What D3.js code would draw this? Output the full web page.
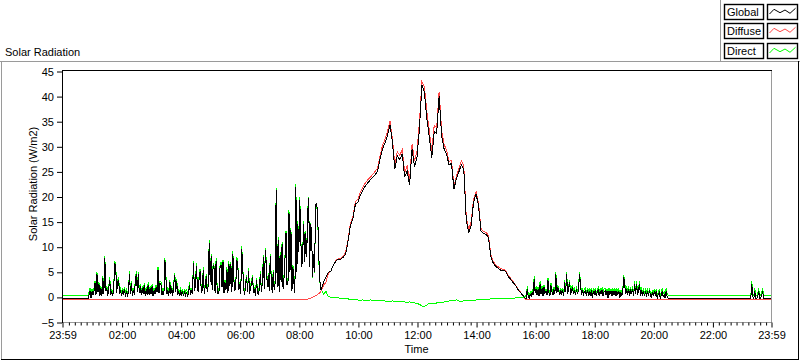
<!DOCTYPE html>
<html>
<head>
<meta charset="utf-8">
<script src="https://cdn.jsdelivr.net/npm/d3@7"></script>
<style>
  body { margin: 0; background: #fff; }
  text { font-family: "Liberation Sans", Arial, sans-serif; font-size: 11px; fill: #000; }
</style>
</head>
<body>
<svg id="chart" width="800" height="361"></svg>
<script>
// sampling of the logger blocks (minutes after 00:00)
const earlyStart = 0, earlyStep = 2;      // night / morning, 2 min
const dayStart = 525, dayStep = 5;        // daylight, 5 min
const lateStart = 942, lateStep = 2;      // evening / night, 2 min
const diffuseNightStep = 10;              // diffuse is flat at night
const diffuseLateStart = 948;

// ---- Global (W/m2) ----
const globalEarly = [
  -0.2,-0.2,-0.2,-0.2,-0.2,-0.2,-0.2,-0.2,-0.2,-0.2,
  -0.2,-0.2,-0.2,-0.2,-0.2,-0.2,-0.2,-0.2,-0.2,-0.2,
  -0.2,-0.2,-0.2,-0.2,-0.2,-0.2,-0.2,
  0.6,1.3,-0.2,1.2,0.4,1.3,2.8,0.5,4.6,1.0,
  2.6,0.3,1.8,0.2,3.8,0.6,7.8,1.2,1.8,0.3,
  1.8,3.5,0.4,1.2,0.2,1.6,6.6,6.4,0.8,3.0,
  3.5,0.6,1.5,0.2,1.4,0.8,1.6,0.1,1.3,0.4,
  1.0,4.7,0.6,2.8,0.3,1.4,0.5,3.2,4.7,1.0,
  4.6,0.8,2.2,0.4,1.8,0.6,2.4,0.2,1.6,0.5,
  2.5,0.4,1.8,0.6,2.2,0.2,1.4,0.6,2.0,1.0,
  5.5,0.8,2.8,2.6,0.4,1.2,0.6,7.4,4.0,0.6,
  1.5,0.3,3.0,0.6,1.8,0.2,2.6,4.4,1.0,3.2,
  0.4,1.2,0.2,1.2,0.6,1.0,0.2,1.2,0.4,1.1,
  0.2,1.0,2.5,0.4,1.4,0.6,6.8,1.2,2.4,6.3,
  2.0,1.0,5.0,5.1,0.8,1.6,5.5,0.6,2.4,4.2,
  1.0,2.4,10.9,3.0,8.2,1.4,6.4,5.7,0.8,7.3,
  2.0,0.6,1.4,6.0,6.5,2.0,7.0,0.8,3.0,1.4,
  5.5,0.8,6.7,2.2,6.6,1.0,8.7,3.4,1.2,2.6,
  7.5,6.7,1.4,2.6,0.6,9.7,6.0,1.8,0.4,2.7,
  4.0,1.0,5.3,0.6,2.0,2.7,4.0,0.8,1.6,0.2,
  3.4,1.2,0.4,2.0,4.7,1.0,3.0,8.0,1.6,9.4,
  6.5,2.0,4.4,1.2,8.2,3.6,0.8,5.0,1.4,3.0,
  21.3,2.0,11.5,1.0,8.5,3.0,10.6,1.6,4.0,8.0,
  12.8,2.4,3.0,16.9,5.0,13.4,1.2,6.0,3.0,0.8,
  22.0,5.0,14.7,9.0,19.4,11.4,6.0,9.0,14.7,7.0,
  12.8,8.0,16.9,19.7,6.0,14.7,12.8,4.0,8.7,5.0,
  18.4,18.7,17.4,10.6,4.0
];
const globalDay = [
  1.5,3.0,4.0,
  5.0,5.2,6.4,7.2,7.6,7.6,8.0,8.6,11.2,14.4,15.8,18.6,
  19.0,20.4,21.4,22.2,22.8,23.4,23.9,24.4,25.2,27.6,29.6,30.8,
  32.2,34.4,31.0,25.6,28.2,27.4,28.6,24.0,25.2,22.4,29.6,26.0,
  28.0,33.6,42.4,40.8,35.6,32.0,27.8,33.0,32.7,40.2,32.2,29.6,
  28.6,26.4,26.7,21.6,23.6,25.0,26.4,25.6,15.6,12.8,14.4,19.0,
  20.6,18.2,13.2,12.7,12.6,12.0,8.2,6.8,6.2,5.8,5.4,5.4,
  5.2,4.2,3.6,3.0,2.4,1.6,1.0,0.4,-0.2
];
const globalLate = [
  -0.2,1.7,0.2,-0.2,0.6,0.2,1.0,0.4,3.7,0.8,
  1.7,0.4,1.6,0.2,2.7,0.6,1.8,0.3,2.0,0.8,
  1.2,0.4,3.4,1.0,0.3,2.4,1.2,0.4,1.6,0.6,
  4.6,0.8,2.0,1.2,0.4,1.4,0.6,1.4,0.2,3.0,
  1.0,4.6,0.6,1.8,3.0,0.4,1.4,2.0,0.6,1.2,
  0.4,1.7,0.6,1.4,4.6,2.7,0.4,1.4,0.6,1.2,
  1.4,0.2,1.4,0.6,1.3,0.2,1.4,-0.2,1.3,0.4,
  1.4,0.2,1.0,1.5,0.2,1.3,0.6,1.5,0.2,1.2,
  1.3,0.4,1.2,-0.2,1.3,0.6,1.2,0.2,1.3,0.4,
  1.3,0.2,1.2,0.6,1.3,-0.2,1.0,0.4,1.2,4.0,
  2.4,0.6,1.7,0.4,1.7,0.2,1.6,0.6,1.7,0.3,
  2.7,0.6,2.7,0.4,1.4,2.7,0.2,1.2,0.6,1.3,
  0.2,1.0,0.4,1.3,0.2,1.2,0.6,-0.2,1.0,0.2,
  1.2,0.4,1.2,-0.2,0.6,1.0,-0.2,0.4,1.3,0.2,
  0.6,-0.2,1.3,0.2,-0.2,-0.2,-0.2,-0.2,-0.2,-0.2,
  -0.2,-0.2,-0.2,-0.2,-0.2,-0.2,-0.2,-0.2,-0.2,-0.2,
  -0.2,-0.2,-0.2,-0.2,-0.2,-0.2,-0.2,-0.2,-0.2,-0.2,
  -0.2,-0.2,-0.2,-0.2,-0.2,-0.2,-0.2,-0.2,-0.2,-0.2,
  -0.2,-0.2,-0.2,-0.2,-0.2,-0.2,-0.2,-0.2,-0.2,-0.2,
  -0.2,-0.2,-0.2,-0.2,-0.2,-0.2,-0.2,-0.2,-0.2,-0.2,
  -0.2,-0.2,-0.2,-0.2,-0.2,-0.2,-0.2,-0.2,-0.2,-0.2,
  -0.2,-0.2,-0.2,-0.2,-0.2,-0.2,-0.2,-0.2,-0.2,-0.2,
  -0.2,-0.2,-0.2,-0.2,-0.2,-0.2,-0.2,-0.2,-0.2,
  2.7,0.2,-0.2,1.3,-0.2,-0.2,0.2,1.3,-0.2,-0.2,
  0.4,1.3,-0.2,-0.2,-0.2,-0.2,-0.2,-0.2,-0.2,-0.2
];

// ---- Diffuse (W/m2) ----
const diffuseEarly = [
  -0.4,-0.4,-0.4,-0.4,-0.4,-0.4,-0.4,-0.4,-0.4,-0.4,
  -0.4,-0.4,-0.4,-0.4,-0.4,-0.4,-0.4,-0.4,-0.4,-0.4,
  -0.4,-0.4,-0.4,-0.4,-0.4,-0.4,-0.4,-0.4,-0.4,-0.4,
  -0.4,-0.4,-0.4,-0.4,-0.4,-0.4,-0.4,-0.4,-0.4,-0.4,
  -0.4,-0.4,-0.4,-0.4,-0.4,-0.4,-0.4,-0.4,-0.4,-0.4,
  -0.3,0.1,0.7
];
const diffuseDay = [
  1.2,2.4,3.0,
  4.8,5.2,6.4,7.3,7.7,7.8,8.2,8.9,11.5,14.8,16.2,19.1,
  19.5,21.0,21.9,22.8,23.4,23.9,24.5,25.1,25.8,28.2,30.3,31.5,
  33.0,35.2,31.7,26.4,29.0,28.3,29.4,24.9,26.2,23.3,30.6,27.1,
  29.2,35.0,43.0,42.0,37.0,33.2,29.0,34.3,33.8,41.0,33.2,30.5,
  29.4,27.1,27.3,22.2,24.1,25.7,27.2,26.3,16.2,13.4,15.1,19.6,
  21.1,18.7,13.7,13.1,13.0,12.4,8.5,7.1,6.5,6.1,5.7,5.6,
  5.4,4.5,3.8,3.2,2.5,1.7,1.1,0.4,-0.4
];
const diffuseLate = [
  -0.4,-0.4,-0.4,-0.4,-0.4,-0.4,-0.4,-0.4,-0.4,-0.4,
  -0.4,-0.4,-0.4,-0.4,-0.4,-0.4,-0.4,-0.4,-0.4,-0.4,
  -0.4,-0.4,-0.4,-0.4,-0.4,-0.4,-0.4,-0.4,-0.4,-0.4,
  -0.4,-0.4,-0.4,-0.4,-0.4,-0.4,-0.4,-0.4,-0.4,-0.4,
  -0.4,-0.4,-0.4,-0.4,-0.4,-0.4,-0.4,-0.4,-0.4,-0.4
];

// ---- Direct (W/m2) ----
const directEarly = [
  0.4,0.4,0.4,0.4,0.4,0.4,0.4,0.4,0.4,0.4,
  0.4,0.4,0.4,0.4,0.4,0.4,0.4,0.4,0.4,0.4,
  0.4,0.4,0.4,0.4,0.4,0.4,0.4,
  1.1,1.8,0.4,1.7,0.9,1.8,3.3,1.0,5.1,1.5,
  3.1,0.8,2.3,0.7,4.3,1.1,8.3,1.7,2.3,0.8,
  2.3,4.0,0.9,1.7,0.7,2.1,7.1,6.9,1.3,3.5,
  4.0,1.1,2.0,0.7,1.9,1.3,2.1,0.6,1.8,0.9,
  1.5,5.2,1.1,3.3,0.8,1.9,1.0,3.7,5.2,1.5,
  5.1,1.3,2.7,0.9,2.3,1.1,2.9,0.7,2.1,1.0,
  3.0,0.9,2.3,1.1,2.7,0.7,1.9,1.1,2.5,1.5,
  6.0,1.3,3.3,3.1,0.9,1.7,1.1,7.9,4.5,1.1,
  2.0,0.8,3.5,1.1,2.3,0.7,3.1,4.9,1.5,3.7,
  0.9,1.7,0.7,1.7,1.1,1.5,0.7,1.7,0.9,1.6,
  0.7,1.5,3.0,0.9,1.9,1.1,7.3,1.7,2.9,6.8,
  2.5,1.5,5.5,5.6,1.3,2.1,6.0,1.1,2.9,4.7,
  1.5,2.9,11.4,3.5,8.7,1.9,6.9,6.2,1.3,7.8,
  2.5,1.1,1.9,6.5,7.0,2.5,7.5,1.3,3.5,1.9,
  6.0,1.3,7.2,2.7,7.1,1.5,9.2,3.9,1.7,3.1,
  8.0,7.2,1.9,3.1,1.1,10.2,6.5,2.3,0.9,3.2,
  4.5,1.5,5.8,1.1,2.5,3.2,4.5,1.3,2.1,0.7,
  3.9,1.7,0.9,2.5,5.2,1.5,3.5,8.5,2.1,9.9,
  7.0,2.5,4.9,1.7,8.7,4.1,1.3,5.5,1.9,3.5,
  21.8,2.5,12.0,1.5,9.0,3.5,11.1,2.1,4.5,8.5,
  13.3,2.9,3.5,17.4,5.5,13.9,1.7,6.5,3.5,1.3,
  22.5,5.5,15.2,9.5,19.9,11.9,6.5,9.5,15.2,7.5,
  13.3,8.5,17.4,20.0,6.2,14.8,12.8,3.9,8.6,4.8,
  18.1,18.2,16.8,9.9,3.3
];
const directDay = [
  1.8,0.6,1.2,
  0.2,0.0,0.0,-0.1,-0.1,-0.2,-0.2,-0.3,-0.3,-0.4,-0.4,-0.5,
  -0.5,-0.6,-0.5,-0.6,-0.6,-0.5,-0.6,-0.7,-0.6,-0.6,-0.7,-0.7,
  -0.8,-0.8,-0.7,-0.8,-0.8,-0.9,-0.8,-0.9,-1.0,-0.9,-1.0,-1.1,
  -1.2,-1.4,-1.7,-1.8,-1.5,-1.2,-1.2,-1.3,-1.1,-1.1,-1.0,-0.9,
  -0.8,-0.7,-0.6,-0.6,-0.5,-0.7,-0.8,-0.7,-0.6,-0.6,-0.7,-0.6,
  -0.5,-0.5,-0.5,-0.4,-0.4,-0.4,-0.3,-0.3,-0.3,-0.3,-0.3,-0.2,
  -0.2,-0.3,-0.2,-0.2,-0.1,-0.1,-0.1,0.0,0.2
];
const directLate = [
  0.4,2.2,0.7,0.4,1.1,0.7,1.5,0.9,4.2,1.3,
  2.2,0.9,2.1,0.7,3.2,1.1,2.3,0.8,2.5,1.3,
  1.7,0.9,3.9,1.5,0.8,2.9,1.7,0.9,2.1,1.1,
  5.1,1.3,2.5,1.7,0.9,1.9,1.1,1.9,0.7,3.5,
  1.5,5.1,1.1,2.3,3.5,0.9,1.9,2.5,1.1,1.7,
  0.9,2.2,1.1,1.9,5.1,3.2,0.9,1.9,1.1,1.7,
  1.9,0.7,1.9,1.1,1.8,0.7,1.9,0.4,1.8,0.9,
  1.9,0.7,1.5,2.0,0.7,1.8,1.1,2.0,0.7,1.7,
  1.8,0.9,1.7,0.4,1.8,1.1,1.7,0.7,1.8,0.9,
  1.8,0.7,1.7,1.1,1.8,0.4,1.5,0.9,1.7,4.5,
  2.9,1.1,2.2,0.9,2.2,0.7,2.1,1.1,2.2,0.8,
  3.2,1.1,3.2,0.9,1.9,3.2,0.7,1.7,1.1,1.8,
  0.7,1.5,0.9,1.8,0.7,1.7,1.1,0.4,1.5,0.7,
  1.7,0.9,1.7,0.4,1.1,1.5,0.4,0.9,1.8,0.7,
  1.1,0.4,1.8,0.7,0.4,0.4,0.4,0.4,0.4,0.4,
  0.4,0.4,0.4,0.4,0.4,0.4,0.4,0.4,0.4,0.4,
  0.4,0.4,0.4,0.4,0.4,0.4,0.4,0.4,0.4,0.4,
  0.4,0.4,0.4,0.4,0.4,0.4,0.4,0.4,0.4,0.4,
  0.4,0.4,0.4,0.4,0.4,0.4,0.4,0.4,0.4,0.4,
  0.4,0.4,0.4,0.4,0.4,0.4,0.4,0.4,0.4,0.4,
  0.4,0.4,0.4,0.4,0.4,0.4,0.4,0.4,0.4,0.4,
  0.4,0.4,0.4,0.4,0.4,0.4,0.4,0.4,0.4,0.4,
  0.4,0.4,0.4,0.4,0.4,0.4,0.4,0.4,0.4,
  3.2,0.7,0.4,1.8,0.4,0.4,0.7,1.8,0.4,0.4,
  0.9,1.8,0.4,0.4,0.4,0.4,0.4,0.4,0.4,0.4
];

const seriesNames = ["Global", "Diffuse", "Direct"];
const yTicks = [-5, 0, 5, 10, 15, 20, 25, 30, 35, 40, 45];
const xTickMinutes = [-1, 120, 240, 360, 480, 600, 720, 840, 960, 1080, 1200, 1320, 1439];
const xTickLabels = ["23:59", "02:00", "04:00", "06:00", "08:00", "10:00", "12:00",
                     "14:00", "16:00", "18:00", "20:00", "22:00", "23:59"];

const colors = {Global: "#000000", Diffuse: "#ff4848", Direct: "#00ff00"};
const grey = "#9a9a9a";

function toPoints(values, start, step) {
    return values.map((v, i) => ({t: start + i * step, v: v}));
}

const seriesData = {
    Global: [...toPoints(globalEarly, earlyStart, earlyStep),
             ...toPoints(globalDay, dayStart, dayStep),
             ...toPoints(globalLate, lateStart, lateStep)],
    Diffuse: [...toPoints(diffuseEarly, earlyStart, diffuseNightStep),
              ...toPoints(diffuseDay, dayStart, dayStep),
              ...toPoints(diffuseLate, diffuseLateStart, diffuseNightStep)],
    Direct: [...toPoints(directEarly, earlyStart, earlyStep),
             ...toPoints(directDay, dayStart, dayStep),
             ...toPoints(directLate, lateStart, lateStep)]
};

const svg = d3.select("#chart");
svg.append("rect").attr("width", 800).attr("height", 361).attr("fill", "#fff");

const plotL = 62, plotR = 771, plotT = 71, plotB = 322;

const x = d3.scaleLinear().domain([-1, 1439]).range([plotL, plotR]);
const y = d3.scaleLinear().domain([-5, 45]).range([plotB + 0.5, plotT + 0.5]);

// outer frame (sunken look)
svg.append("line").attr("x1", 0).attr("x2", 800).attr("y1", 61.5).attr("y2", 61.5).attr("stroke", grey);
svg.append("line").attr("x1", 1.5).attr("x2", 1.5).attr("y1", 61).attr("y2", 360).attr("stroke", grey);
svg.append("line").attr("x1", 798.5).attr("x2", 798.5).attr("y1", 61).attr("y2", 360).attr("stroke", "#000");
svg.append("line").attr("x1", 1).attr("x2", 799).attr("y1", 359.5).attr("y2", 359.5).attr("stroke", "#000");

svg.append("text").attr("x", 5).attr("y", 56).text("Solar Radiation");

// legend panel
svg.append("line").attr("x1", 720.5).attr("x2", 720.5).attr("y1", 0).attr("y2", 61).attr("stroke", grey);
const legend = svg.append("g");
seriesNames.forEach((name, k) => {
    const top = 4 + Math.round(k * 19.4);
    legend.append("rect")
        .attr("x", 724.5).attr("y", top + 0.5)
        .attr("width", 39).attr("height", 15)
        .attr("fill", "#fff").attr("stroke", "#000").attr("stroke-width", 1.4);
    legend.append("text").attr("x", 727).attr("y", top + 12).text(name);
    legend.append("rect")
        .attr("x", 767.5).attr("y", top + 0.5)
        .attr("width", 30).attr("height", 15)
        .attr("fill", "#fff").attr("stroke", "#000").attr("stroke-width", 1.4);
    const zig = [[769.5, 10], [774, 5.3], [780, 8.7], [785, 6], [790, 9.3], [795.5, 4.3]];
    legend.append("path")
        .attr("d", d3.line()(zig.map(p => [p[0], top + p[1]])))
        .attr("fill", "none").attr("stroke", colors[name]).attr("stroke-width", 1);
});

// data lines: direct first, global on top
const line = d3.line()
    .x(d => x(d.t))
    .y(d => y(d.v));

["Direct", "Diffuse", "Global"].forEach(name => {
    svg.append("path")
        .attr("d", line(seriesData[name]))
        .attr("fill", "none")
        .attr("stroke", colors[name])
        .attr("stroke-width", 1)
        .attr("shape-rendering", "crispEdges");
});

// plot frame
svg.append("line").attr("x1", plotL).attr("x2", plotR + 1).attr("y1", plotT - 0.5).attr("y2", plotT - 0.5).attr("stroke", "#000");
svg.append("line").attr("x1", plotL + 0.5).attr("x2", plotL + 0.5).attr("y1", plotT - 1).attr("y2", plotB + 1).attr("stroke", "#000");
svg.append("line").attr("x1", plotR + 0.5).attr("x2", plotR + 0.5).attr("y1", plotT).attr("y2", plotB + 1).attr("stroke", grey);
svg.append("line").attr("x1", plotL + 1).attr("x2", plotR + 1).attr("y1", plotB + 0.5).attr("y2", plotB + 0.5).attr("stroke", grey);

// y axis
const yAxis = svg.append("g")
    .attr("transform", `translate(${plotL},0)`)
    .call(d3.axisLeft(y).tickValues(yTicks).tickSize(5).tickPadding(3));
yAxis.select(".domain").remove();
yAxis.selectAll("text").style("font-family", "'Liberation Sans', Arial, sans-serif").style("font-size", "11px");

// x axis: minor then major ticks
const minorAxis = svg.append("g")
    .attr("transform", `translate(0.5,${plotB + 0.5})`)
    .call(d3.axisBottom(x).tickValues(d3.range(12, 1439, 12).filter(m => m % 120 !== 0)).tickSize(3).tickFormat(""));
minorAxis.select(".domain").remove();

const xAxis = svg.append("g")
    .attr("transform", `translate(0.5,${plotB + 0.5})`)
    .call(d3.axisBottom(x).tickValues(xTickMinutes).tickSize(5).tickPadding(4)
        .tickFormat((d, i) => xTickLabels[i]));
xAxis.select(".domain").remove();
xAxis.selectAll("text").style("font-family", "'Liberation Sans', Arial, sans-serif").style("font-size", "11px");

svg.append("text")
    .attr("x", (plotL + plotR) / 2).attr("y", 353)
    .attr("text-anchor", "middle")
    .text("Time");

svg.append("text")
    .attr("transform", "translate(37,184) rotate(-90)")
    .attr("text-anchor", "middle")
    .text("Solar Radiation (W/m2)");
</script>
</body>
</html>
